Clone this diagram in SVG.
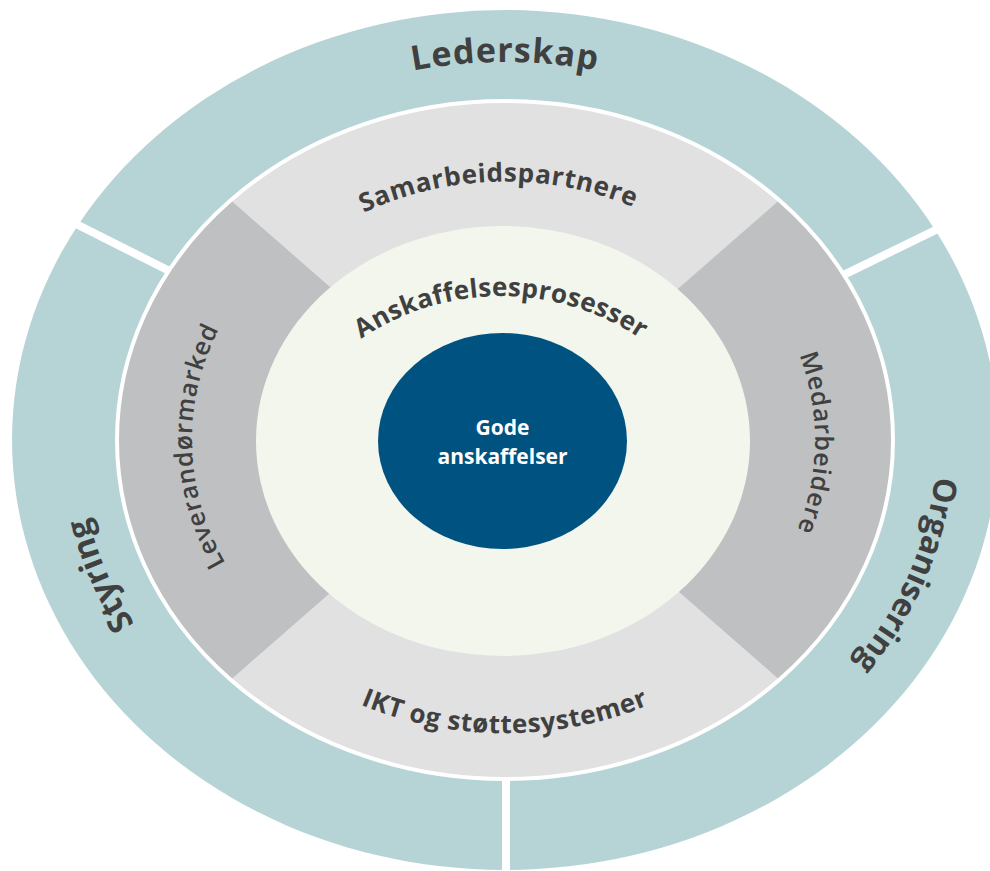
<svg xmlns="http://www.w3.org/2000/svg" width="990" height="871" viewBox="0 0 990 871">
<style>
.t{font-family:"Open Sans","DejaVu Sans",sans-serif;fill:#404040;text-anchor:middle}
.big{font-size:33px;font-weight:700}
.mid{font-size:26px;font-weight:700;letter-spacing:0.6px}
.side{font-size:25px;font-weight:600;letter-spacing:0.8px}
.teal{fill:#B6D4D6}
.lg{fill:#E1E1E1}
.dg{fill:#BFC0C2}
.gap{stroke:#fff;stroke-width:8;fill:none}
</style>
<defs>
<path id="pLed" d="M98.1,310.7 A433,378 0 0 1 911.9,310.7"/>
<path id="pSty" d="M260.6,744.7 A426,371.9 0 0 1 93.5,343.8"/>
<path id="pOrg" d="M922.7,343.7 A432,377.1 0 0 1 751.5,749.6"/>
<path id="pSam" d="M224.3,358 A296,258.4 0 0 1 780.4,345.3"/>
<path id="pMed" d="M706.7,234.5 A310,270.6 0 0 1 701.8,649.1"/>
<path id="pLev" d="M309.3,653.2 A313,273.2 0 0 1 298.4,234.7"/>
<path id="pIKT" d="M189.3,540.3 A336,293.3 0 0 0 820.7,540.3"/>
<path id="pAns" d="M266.1,460.5 A250,250 0 0 1 735.9,460.5"/>
</defs>
<rect width="990" height="871" fill="#fff"/>
<g id="lederskap">
<path class="teal" d="M505,440 L78.1,225 A493,430 0 0 1 935.3,230.2 Z"/>
</g>
<g id="organisering">
<path class="teal" d="M505,440 L935.3,230.2 A493,430 0 0 1 505,870 Z"/>
</g>
<g id="styring">
<path class="teal" d="M505,440 L505,870 A493,430 0 0 1 78.1,225 Z"/>
</g>
<g id="separators">
<line class="gap" x1="505" y1="440" x2="35.4" y2="203.5"/>
<line class="gap" x1="505" y1="440" x2="978.4" y2="209.2"/>
<line class="gap" x1="506" y1="440" x2="506" y2="880"/>
</g>
<g id="samarbeidspartnere">
<path class="lg" d="M505,440 L230.6,200.3 A388,339 0 0 1 779.4,200.3 Z"/>
</g>
<g id="medarbeidere">
<path class="dg" d="M505,440 L779.4,200.3 A388,339 0 0 1 779.4,679.7 Z"/>
</g>
<g id="ikt">
<path class="lg" d="M505,440 L779.4,679.7 A388,339 0 0 1 230.6,679.7 Z"/>
</g>
<g id="leverandormarked">
<path class="dg" d="M505,440 L230.6,679.7 A388,339 0 0 1 230.6,200.3 Z"/>
</g>
<ellipse cx="505" cy="440" rx="388" ry="339" fill="none" stroke="#fff" stroke-width="4"/>
<g id="anskaffelsesprosesser">
<ellipse cx="503" cy="441" rx="247" ry="215" fill="#F2F6EC"/>
</g>
<g id="gode-anskaffelser">
<ellipse cx="502.5" cy="441" rx="124.5" ry="108" fill="#005380"/>
<text class="t" x="502.5" y="435" style="font-size:21px;font-weight:700;fill:#fff">Gode</text>
<text class="t" x="502.5" y="464" style="font-size:21px;font-weight:700;fill:#fff">anskaffelser</text>
</g>
<g id="labels">
<text class="t big" style="font-size:34px;letter-spacing:1px"><textPath href="#pLed" startOffset="50%">Lederskap</textPath></text>
<text class="t big"><textPath href="#pSty" startOffset="50%">Styring</textPath></text>
<text class="t big" style="font-size:32px"><textPath href="#pOrg" startOffset="50%">Organisering</textPath></text>
<text class="t mid"><textPath href="#pSam" startOffset="50%">Samarbeidspartnere</textPath></text>
<text class="t side"><textPath href="#pMed" startOffset="50%">Medarbeidere</textPath></text>
<text class="t side"><textPath href="#pLev" startOffset="50%">Leverandørmarked</textPath></text>
<text class="t mid"><textPath href="#pIKT" startOffset="50%">IKT og støttesystemer</textPath></text>
<text class="t mid" style="letter-spacing:0.3px"><textPath href="#pAns" startOffset="50%">Anskaffelsesprosesser</textPath></text>
</g>
</svg>
